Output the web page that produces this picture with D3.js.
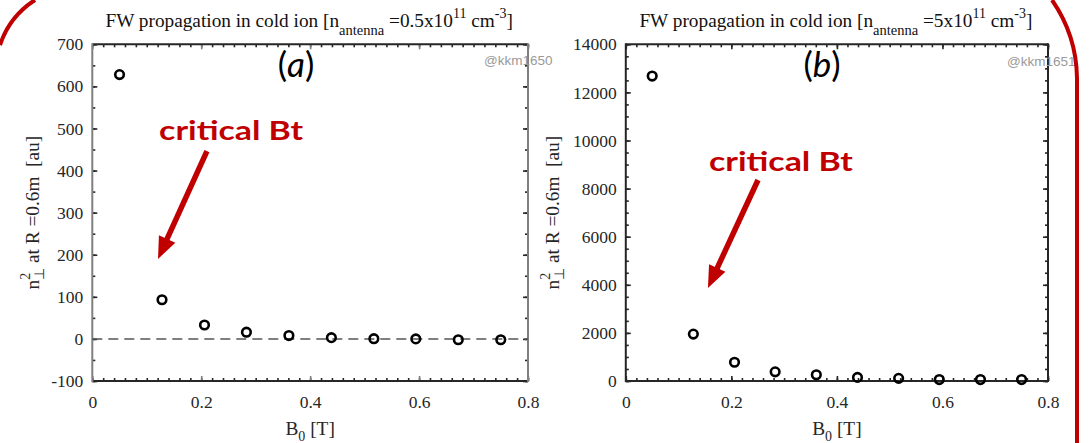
<!DOCTYPE html>
<html>
<head>
<meta charset="utf-8">
<script src="https://cdn.jsdelivr.net/npm/d3@7"></script>
<style>
  body { margin: 0; background: #fff; }
  svg { display: block; background: #fff; }
</style>
</head>
<body>
<svg id="chart" width="1089" height="443"></svg>
<script>
// toroidal field scan [T]
const bField = [0.05, 0.128, 0.206, 0.283, 0.361, 0.439, 0.517, 0.594, 0.672, 0.75];
// n_perp^2 at R = 0.6m, n_antenna = 0.5e11 cm^-3
const n2Low = [628, 93, 33, 16, 8, 3, 0.5, 0, -2, -2];
// n_perp^2 at R = 0.6m, n_antenna = 5e11 cm^-3
const n2High = [12680, 1950, 780, 380, 260, 150, 110, 60, 60, 60];

const xTicks = [0, 0.2, 0.4, 0.6, 0.8];
const yTicksLow = [-100, 0, 100, 200, 300, 400, 500, 600, 700];
const yTicksHigh = [0, 2000, 4000, 6000, 8000, 10000, 12000, 14000];

const SERIF = '"Liberation Serif", "Times New Roman", serif';
const RED = '#c00000';
const TOP = 44.3, BOTTOM = 381;
const TICK_FS = 17.5, LABEL_FS = 19.3;

const svg = d3.select("#chart");

// red arrow from (x1,y1) to tip (x2,y2), pixels
function drawArrow(g, x1, y1, x2, y2) {
    const ang = Math.atan2(y2 - y1, x2 - x1);
    const headLen = 22, headW = 9;
    const bx = x2 - headLen * Math.cos(ang), by = y2 - headLen * Math.sin(ang);
    g.append('line')
        .attr('x1', x1).attr('y1', y1)
        .attr('x2', bx + 2 * Math.cos(ang)).attr('y2', by + 2 * Math.sin(ang))
        .attr('stroke', RED).attr('stroke-width', 5.5);
    g.append('path')
        .attr('d', `M${x2},${y2} L${bx + headW * Math.sin(ang)},${by - headW * Math.cos(ang)} L${bx - headW * Math.sin(ang)},${by + headW * Math.cos(ang)} Z`)
        .attr('fill', RED);
}

function plotPanel(cfg) {
    const xScale = d3.scaleLinear().domain([0, 0.8]).range([cfg.left, cfg.right]);
    const yScale = d3.scaleLinear().domain(cfg.yDomain).range([BOTTOM, TOP]);
    const g = svg.append('g');

    const xMinor = d3.range(0, 0.8001, 0.02);
    const yMinor = d3.range(cfg.yDomain[0], cfg.yDomain[1] + 1, cfg.yMinorStep);

    // helper: add axis, drop domain path, colour ticks, set label font
    const addAxis = (axis, transform, color) => {
        const a = g.append('g').attr('transform', transform).call(axis);
        a.select('.domain').remove();
        a.selectAll('line').attr('stroke', color).attr('stroke-width', 1.6);
        a.attr('font-family', null).attr('font-size', null);
        a.selectAll('text')
            .style('font-family', SERIF)
            .style('font-size', TICK_FS + 'px')
            .attr('fill', '#262626');
        return a;
    };

    const hCol = '#262626';
    const vCol = cfg.vColor;

    // minor ticks, all four sides
    addAxis(d3.axisBottom(xScale).tickValues(xMinor).tickSize(-3).tickFormat(''), `translate(0,${BOTTOM})`, hCol);
    addAxis(d3.axisTop(xScale).tickValues(xMinor).tickSize(-3).tickFormat(''), `translate(0,${TOP})`, hCol);
    addAxis(d3.axisLeft(yScale).tickValues(yMinor).tickSize(-3).tickFormat(''), `translate(${cfg.left},0)`, hCol);
    addAxis(d3.axisRight(yScale).tickValues(yMinor).tickSize(-3).tickFormat(''), `translate(${cfg.right},0)`, hCol);

    // major ticks + labels (plain hyphen for negatives, like the original)
    addAxis(d3.axisBottom(xScale).tickValues(xTicks).tickSize(-5).tickPadding(15).tickFormat(d => String(d)), `translate(0,${BOTTOM})`, vCol);
    addAxis(d3.axisTop(xScale).tickValues(xTicks).tickSize(-5).tickFormat(''), `translate(0,${TOP})`, vCol);
    addAxis(d3.axisLeft(yScale).tickValues(cfg.yTicks).tickSize(-5).tickPadding(9).tickFormat(d => String(d)), `translate(${cfg.left},0)`, hCol);
    addAxis(d3.axisRight(yScale).tickValues(cfg.yTicks).tickSize(-5).tickFormat(''), `translate(${cfg.right},0)`, hCol);

    // spines
    g.append('line').attr('x1', cfg.left).attr('x2', cfg.right).attr('y1', TOP).attr('y2', TOP)
        .attr('stroke', hCol).attr('stroke-width', 2);
    g.append('line').attr('x1', cfg.left).attr('x2', cfg.right).attr('y1', BOTTOM).attr('y2', BOTTOM)
        .attr('stroke', hCol).attr('stroke-width', 2);
    g.append('line').attr('x1', cfg.left).attr('x2', cfg.left).attr('y1', TOP - 1).attr('y2', BOTTOM + 1)
        .attr('stroke', vCol).attr('stroke-width', 2);
    g.append('line').attr('x1', cfg.right).attr('x2', cfg.right).attr('y1', TOP - 1).attr('y2', BOTTOM + 1)
        .attr('stroke', vCol).attr('stroke-width', 2);

    // zero reference line
    if (cfg.zeroLine) {
        g.append('line')
            .attr('x1', cfg.left).attr('x2', cfg.right)
            .attr('y1', yScale(0)).attr('y2', yScale(0))
            .attr('stroke', '#555').attr('stroke-width', 1.5)
            .attr('stroke-dasharray', '10,6');
    }

    // watermark
    g.append('text')
        .attr('x', cfg.wmX).attr('y', cfg.wmY)
        .style('font-family', '"Liberation Sans", Arial, sans-serif')
        .style('font-size', '13.5px')
        .attr('fill', '#9a9a9a')
        .text(cfg.watermark);

    // data points
    g.selectAll('circle.pt')
        .data(bField.map((b, i) => ({b: b, v: cfg.values[i]})))
        .enter()
        .append('circle')
        .attr('class', 'pt')
        .attr('cx', d => xScale(d.b))
        .attr('cy', d => yScale(d.v))
        .attr('r', 4.3)
        .attr('fill', 'none')
        .attr('stroke', '#000')
        .attr('stroke-width', 2.6);

    // title
    const t = svg.append('text')
        .attr('x', (cfg.left + cfg.right) / 2 - 1).attr('y', 27)
        .attr('text-anchor', 'middle')
        .style('font-family', SERIF).style('font-size', LABEL_FS + 'px')
        .attr('fill', '#111');
    t.append('tspan').text('FW propagation in cold ion [n');
    t.append('tspan').attr('dy', 8).style('font-size', '14.5px').text('antenna');
    t.append('tspan').attr('dy', -8).text('\u00a0=' + cfg.density + 'x10');
    t.append('tspan').attr('dy', -9).style('font-size', '14px').text('11');
    t.append('tspan').attr('dy', 9).text(' cm');
    t.append('tspan').attr('dy', -9).style('font-size', '14px').text('-3');
    t.append('tspan').attr('dy', 9).text(']');

    // x label
    const xl = svg.append('text')
        .attr('x', (cfg.left + cfg.right) / 2).attr('y', 435)
        .attr('text-anchor', 'middle')
        .style('font-family', SERIF).style('font-size', LABEL_FS + 'px')
        .attr('fill', '#262626');
    xl.append('tspan').text('B');
    xl.append('tspan').attr('dy', 6).style('font-size', '14px').text('0');
    xl.append('tspan').attr('dy', -6).text(' [T]');

    // y label
    const yl = svg.append('text')
        .attr('transform', `translate(${cfg.yLabelX},${(TOP + BOTTOM) / 2}) rotate(-90)`)
        .attr('text-anchor', 'middle')
        .style('font-family', SERIF).style('font-size', LABEL_FS + 'px')
        .style('white-space', 'pre')
        .attr('fill', '#262626');
    yl.append('tspan').text('n');
    yl.append('tspan').attr('dy', -9).style('font-size', '14px').text('2');
    yl.append('tspan').attr('dx', -7).attr('dy', 14).style('font-size', '14px').text('\u22a5');
    yl.append('tspan').attr('dy', -5).text(' at R =0.6m  [au]');

    // panel letter
    const pl = svg.append('text')
        .attr('x', cfg.letterX).attr('y', 77)
        .attr('text-anchor', 'middle')
        .style('font-family', 'Lato, "Open Sans", sans-serif')
        .style('font-size', '35px')
        .attr('fill', '#000');
    pl.append('tspan').text('(');
    pl.append('tspan').style('font-style', 'italic').text(cfg.letter);
    pl.append('tspan').text(')');

    // critical Bt annotation
    svg.append('text')
        .attr('x', xScale(cfg.critText[0])).attr('y', yScale(cfg.critText[1]))
        .style('font-family', 'Lato, "Open Sans", sans-serif')
        .style('font-size', '26px').style('font-weight', 'bold')
        .attr('textLength', 144).attr('lengthAdjust', 'spacingAndGlyphs')
        .attr('fill', RED)
        .text('critical Bt');
    drawArrow(svg, xScale(cfg.arrow[0]), yScale(cfg.arrow[1]), xScale(cfg.arrow[2]), yScale(cfg.arrow[3]));
}

plotPanel({
    left: 92.3, right: 528, yDomain: [-100, 700], yTicks: yTicksLow, yMinorStep: 50,
    values: n2Low, vColor: '#7f7f7f', zeroLine: true,
    density: '0.5', yLabelX: 39, letter: 'a', letterX: 296,
    watermark: '@kkm1650', wmX: 484, wmY: 65,
    critText: [0.1226, 472], arrow: [0.2105, 446, 0.1207, 190]
});

plotPanel({
    left: 625.8, right: 1048, yDomain: [0, 14000], yTicks: yTicksHigh, yMinorStep: 500,
    values: n2High, vColor: '#262626', zeroLine: false,
    density: '5', yLabelX: 559, letter: 'b', letterX: 822,
    watermark: '@kkm1651', wmX: 1007, wmY: 66,
    critText: [0.1576, 8732], arrow: [0.2505, 8358, 0.1557, 3867]
});

// red frame corners from the slide
svg.append('path')
    .attr('d', 'M 0 45 A 85 85 0 0 1 35 0')
    .attr('fill', 'none').attr('stroke', RED).attr('stroke-width', 4);
svg.append('path')
    .attr('d', 'M 1052 0 A 140 140 0 0 1 1077 78 L 1077 443')
    .attr('fill', 'none').attr('stroke', RED).attr('stroke-width', 4);
</script>
</body>
</html>
